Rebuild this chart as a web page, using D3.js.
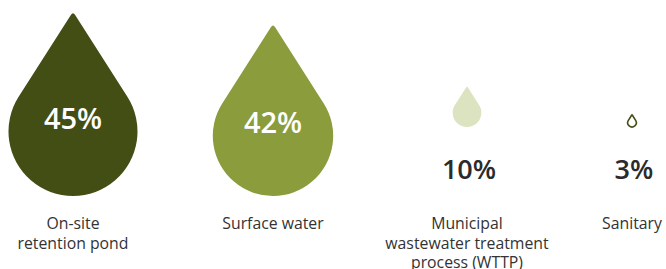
<!DOCTYPE html>
<html>

<head>
    <meta charset="utf-8" />
    <title>Water drops</title>
    <script src="https://d3js.org/d3.v7.min.js"></script>
    <style>
        body {
            margin: 0;
            background: #fff;
        }

        text {
            font-family: "Open Sans", sans-serif;
        }
    </style>
</head>

<body>
    <div class="chart"></div>

    <script>
        // data
        const categories = ["On-site retention pond", "Surface water", "Municipal wastewater treatment process (WTTP)", "Sanitary"];
        const values = [45, 42, 10, 3];
        const labelLines = [
            ["On-site", "retention pond"],
            ["Surface water"],
            ["Municipal", "wastewater treatment", "process (WTTP)"],
            ["Sanitary"]
        ];

        const w = 666;
        const h = 269;

        const svg = d3.select('.chart')
            .append('svg')
            .attr('width', w)
            .attr('height', h);

        // column centres
        const x = d3.scaleOrdinal()
            .domain(categories)
            .range([73, 273, 467, 632]);

        // drop width grows linearly with the share
        const width = d3.scaleLinear()
            .domain([0, 45])
            .range([0, 129]);

        const fill = d3.scaleOrdinal()
            .domain(categories)
            .range(["#434e15", "#8a9c3b", "#dce3c0", "#fff"]);

        const k = 1.86; // tip distance from circle centre, in radii

        // teardrop with a slightly rounded tip, circle centre at 0,0
        function dropPath(r) {
            const cos = 1 / k, sin = Math.sqrt(1 - cos * cos);
            const tip = [0, -k * r];
            const pr = [r * sin, -r * cos];
            const pl = [-r * sin, -r * cos];
            const len = Math.hypot(pr[0] - tip[0], pr[1] - tip[1]);
            const e = Math.min(4, len * 0.06);
            const ux = (pr[0] - tip[0]) / len, uy = (pr[1] - tip[1]) / len;
            const a = [tip[0] - e * ux, tip[1] + e * uy];
            const b = [tip[0] + e * ux, tip[1] + e * uy];
            const p = d3.path();
            p.moveTo(a[0], a[1]);
            p.quadraticCurveTo(tip[0], tip[1], b[0], b[1]);
            p.lineTo(pr[0], pr[1]);
            p.arc(0, 0, r, Math.atan2(pr[1], pr[0]), Math.PI * 2 + Math.atan2(pl[1], pl[0]), false);
            p.closePath();
            return p.toString();
        }

        const rows = categories.map((c, i) => ({
            category: c,
            value: values[i],
            lines: labelLines[i],
            inside: values[i] >= 20
        }));

        // big drops sit on a lower line and hold their label, small ones sit higher
        const bottom = d => d.inside ? 196 : 127;

        svg.selectAll('path.drop')
            .data(rows)
            .enter()
            .append('path')
            .attr('class', 'drop')
            .attr('transform', d => `translate(${x(d.category)},${bottom(d) - width(d.value) / 2})`)
            .attr('d', d => dropPath(width(d.value) / 2))
            .attr('fill', d => fill(d.category))
            .attr('stroke', d => d.value < 5 ? '#434e15' : 'none')
            .attr('stroke-width', 1.6)
            .attr('stroke-linejoin', 'round');

        // percentage labels
        svg.selectAll('text.pct')
            .data(rows)
            .enter()
            .append('text')
            .attr('class', 'pct')
            .attr('text-anchor', 'middle')
            .attr('x', d => x(d.category) + (d.inside ? 0 : 2))
            .attr('y', d => d.inside ? bottom(d) - width(d.value) / 2 - 3 : 179)
            .attr('font-size', d => d.inside ? 29 : 27)
            .attr('font-weight', 600)
            .attr('fill', d => d.inside ? '#fff' : '#2b2b2b')
            .text(d => d.value + '%');

        // category labels under each drop
        svg.selectAll('text.label')
            .data(rows)
            .enter()
            .append('text')
            .attr('class', 'label')
            .attr('text-anchor', 'middle')
            .attr('font-size', 15.8)
            .attr('fill', '#333')
            .attr('x', d => x(d.category))
            .attr('y', 229)
            .selectAll('tspan')
            .data(d => d.lines.map(l => ({ l, cx: x(d.category) })))
            .enter()
            .append('tspan')
            .attr('x', t => t.cx)
            .attr('dy', (t, i) => i === 0 ? 0 : 19.5)
            .text(t => t.l);
    </script>
</body>

</html>
